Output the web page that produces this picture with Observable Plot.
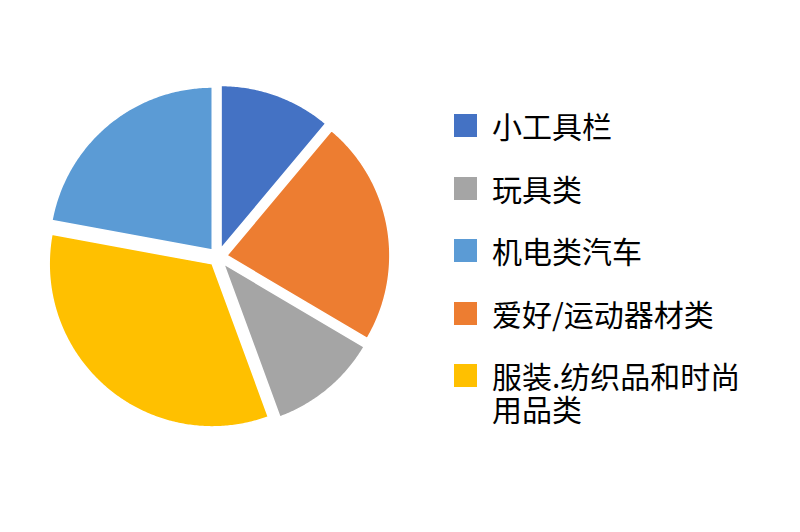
<!DOCTYPE html>
<html>
<head>
<meta charset="utf-8">
<script src="https://cdn.jsdelivr.net/npm/d3@7"></script>
<script src="https://cdn.jsdelivr.net/npm/@observablehq/plot@0.6"></script>
<style>
  html, body { margin: 0; padding: 0; background: #ffffff; }
  #wrap { position: relative; width: 800px; height: 532px; overflow: hidden; font-family: "Noto Sans CJK SC", "Noto Sans", sans-serif; }
  #chart { position: absolute; left: 0; top: 0; }
  #legend { position: absolute; left: 454px; top: 109px; display: flex; flex-direction: column; gap: 30px; }
  .item { display: flex; align-items: flex-start; }
  .sw { width: 23px; height: 23px; margin-top: 5px; flex: none; }
  .lab { margin-left: 15px; font-size: 30px; line-height: 32.5px; color: #000; width: 258px; }
</style>
</head>
<body>
<div id="wrap">
  <div id="chart"></div>
  <div id="legend"></div>
</div>
<script>
// Data (slice order clockwise from 12 o'clock)
const categories = ["小工具栏", "爱好/运动器材类", "玩具类", "服装.纺织品和时尚用品类", "机电类汽车"];
const values = [11.1, 22.4, 10.9, 33.5, 22.1];
const colors = ["#4472C4", "#ED7D31", "#A5A5A5", "#FFC000", "#5B9BD5"];
// Legend order as shown in the reference
const legendOrder = ["小工具栏", "玩具类", "机电类汽车", "爱好/运动器材类", "服装.纺织品和时尚用品类"];

// Layout constants (pixels)
const W = 800, H = 532;
const CX = 217.5, CY = 256.5, R = 163;
const EXPLODE = 9 / R;

const arcs = d3.pie().sort(null)(values);
const pts = [];
arcs.forEach((a, i) => {
  const mid = (a.startAngle + a.endAngle) / 2;
  const ox = EXPLODE * Math.sin(mid), oy = EXPLODE * Math.cos(mid);
  pts.push({name: categories[i], x: ox, y: oy});
  const n = Math.max(2, Math.ceil((a.endAngle - a.startAngle) / 0.01));
  for (let k = 0; k <= n; k++) {
    const t = a.startAngle + (a.endAngle - a.startAngle) * k / n;
    pts.push({name: categories[i], x: ox + Math.sin(t), y: oy + Math.cos(t)});
  }
});

const plot = Plot.plot({
  width: W,
  height: H,
  margin: 0,
  x: {domain: [-CX / R, (W - CX) / R], axis: null},
  y: {domain: [-(H - CY) / R, CY / R], axis: null},
  color: {domain: categories, range: colors},
  marks: [
    Plot.line(pts, {x: "x", y: "y", z: "name", fill: "name", stroke: "white", strokeWidth: 1.5, curve: "linear-closed"})
  ]
});
document.getElementById("chart").appendChild(plot);

const legend = document.getElementById("legend");
legendOrder.forEach(name => {
  const it = document.createElement("div");
  it.className = "item";
  const sw = document.createElement("div");
  sw.className = "sw";
  sw.style.background = colors[categories.indexOf(name)];
  const lab = document.createElement("div");
  lab.className = "lab";
  lab.textContent = name;
  it.appendChild(sw);
  it.appendChild(lab);
  legend.appendChild(it);
});
</script>
</body>
</html>
